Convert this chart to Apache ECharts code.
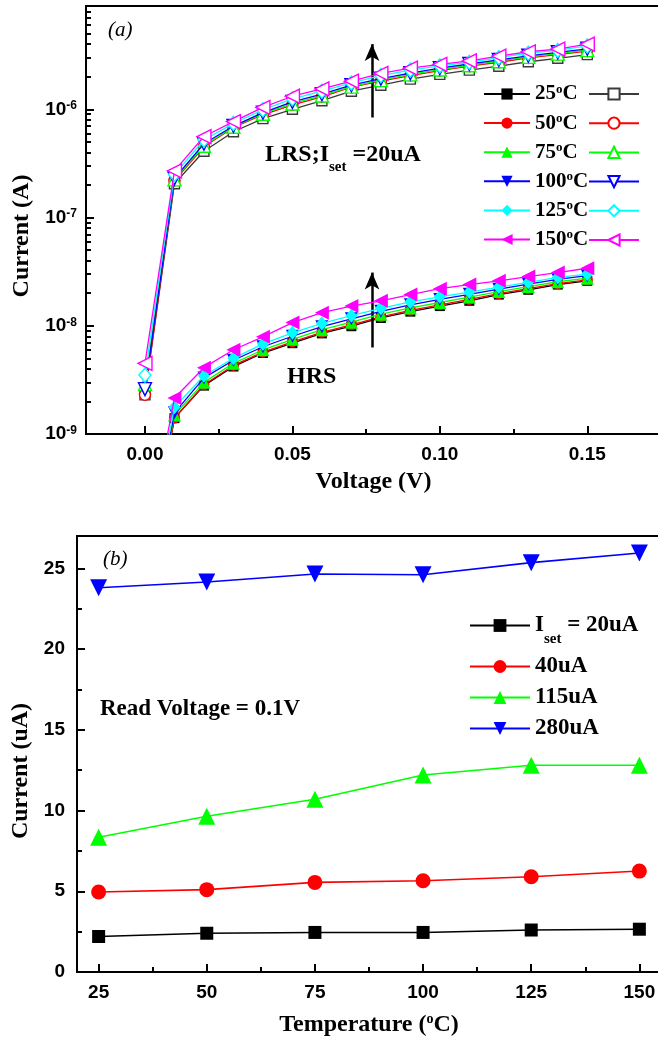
<!DOCTYPE html>
<html>
<head>
<meta charset="utf-8">
<script src="https://cdn.jsdelivr.net/npm/echarts@6/dist/echarts.min.js"></script>
<style>
  html, body { margin: 0; padding: 0; background: #ffffff; }
  #chart { width: 658px; height: 1044px; }
</style>
</head>
<body>
<div id="chart"></div>
<script>
// ---------- (a) I-V curves at several temperatures ----------
const voltage = [0.00, 0.01, 0.02, 0.03, 0.04, 0.05, 0.06, 0.07, 0.08, 0.09, 0.10, 0.11, 0.12, 0.13, 0.14, 0.15];
const tempNames = ['25', '50', '75', '100', '125', '150'];

// high resistance state (filled markers), current in A
const hrs25  = [5e-11, 1.40e-9, 2.80e-9, 4.20e-9, 5.60e-9, 6.90e-9, 8.50e-9, 9.90e-9, 1.18e-8, 1.35e-8, 1.52e-8, 1.70e-8, 1.94e-8, 2.15e-8, 2.40e-8, 2.60e-8];
const hrs50  = [5e-11, 1.40e-9, 2.85e-9, 4.30e-9, 5.70e-9, 7.10e-9, 8.70e-9, 1.02e-8, 1.21e-8, 1.39e-8, 1.56e-8, 1.75e-8, 1.98e-8, 2.20e-8, 2.45e-8, 2.65e-8];
const hrs75  = [6e-11, 1.50e-9, 3.00e-9, 4.50e-9, 6.00e-9, 7.50e-9, 9.20e-9, 1.08e-8, 1.28e-8, 1.46e-8, 1.64e-8, 1.84e-8, 2.07e-8, 2.30e-8, 2.55e-8, 2.75e-8];
const hrs100 = [6e-11, 1.57e-9, 3.30e-9, 4.80e-9, 6.40e-9, 8.00e-9, 9.80e-9, 1.16e-8, 1.36e-8, 1.56e-8, 1.75e-8, 1.95e-8, 2.18e-8, 2.42e-8, 2.68e-8, 2.90e-8];
const hrs125 = [7e-11, 1.77e-9, 3.45e-9, 5.00e-9, 6.80e-9, 8.60e-9, 1.05e-8, 1.24e-8, 1.45e-8, 1.66e-8, 1.85e-8, 2.05e-8, 2.28e-8, 2.52e-8, 2.80e-8, 3.00e-8];
const hrs150 = [8e-11, 2.15e-9, 4.10e-9, 6.00e-9, 7.90e-9, 1.07e-8, 1.32e-8, 1.52e-8, 1.70e-8, 1.94e-8, 2.20e-8, 2.40e-8, 2.60e-8, 2.85e-8, 3.10e-8, 3.40e-8];

// low resistance state (open markers), current in A
const lrs25  = [2.3e-9, 2.05e-7, 4.1e-7, 6.2e-7, 8.2e-7, 1.00e-6, 1.20e-6, 1.47e-6, 1.67e-6, 1.90e-6, 2.10e-6, 2.30e-6, 2.50e-6, 2.75e-6, 2.96e-6, 3.20e-6];
const lrs50  = [2.3e-9, 2.20e-7, 4.5e-7, 6.8e-7, 8.9e-7, 1.10e-6, 1.30e-6, 1.60e-6, 1.82e-6, 2.05e-6, 2.28e-6, 2.50e-6, 2.72e-6, 2.98e-6, 3.20e-6, 3.45e-6];
const lrs75  = [2.9e-9, 2.25e-7, 4.6e-7, 6.9e-7, 9.1e-7, 1.13e-6, 1.34e-6, 1.62e-6, 1.86e-6, 2.10e-6, 2.33e-6, 2.55e-6, 2.78e-6, 3.05e-6, 3.27e-6, 3.52e-6];
const lrs100 = [2.6e-9, 2.30e-7, 4.8e-7, 7.0e-7, 9.3e-7, 1.17e-6, 1.38e-6, 1.67e-6, 1.92e-6, 2.16e-6, 2.40e-6, 2.62e-6, 2.86e-6, 3.12e-6, 3.36e-6, 3.62e-6];
const lrs125 = [3.5e-9, 2.50e-7, 5.2e-7, 7.4e-7, 9.9e-7, 1.25e-6, 1.47e-6, 1.75e-6, 2.05e-6, 2.30e-6, 2.52e-6, 2.72e-6, 3.00e-6, 3.30e-6, 3.50e-6, 3.85e-6];
const lrs150 = [4.5e-9, 2.70e-7, 5.6e-7, 7.7e-7, 1.04e-6, 1.32e-6, 1.54e-6, 1.82e-6, 2.15e-6, 2.40e-6, 2.60e-6, 2.80e-6, 3.10e-6, 3.40e-6, 3.60e-6, 4.00e-6];

const hrsSets = [hrs25, hrs50, hrs75, hrs100, hrs125, hrs150];
const lrsSets = [lrs25, lrs50, lrs75, lrs100, lrs125, lrs150];

// axis ticks of panel (a)
const voltTicks = [0.00, 0.05, 0.10, 0.15];
const voltMinorTicks = [0.025, 0.075, 0.125];
const currentDecades = [1e-9, 1e-8, 1e-7, 1e-6];

// arrows: voltage position, start and end current
const arrowLRS = [0.077, 8.4e-7, 4.0e-6];
const arrowHRS = [0.077, 6.3e-9, 3.1e-8];

// ---------- (b) read current versus temperature ----------
const temperature = [25, 50, 75, 100, 125, 150];
const iset20  = [2.20, 2.40, 2.45, 2.45, 2.60, 2.65];
const iset40  = [4.95, 5.10, 5.55, 5.65, 5.90, 6.25];
const iset115 = [8.35, 9.65, 10.70, 12.20, 12.80, 12.80];
const iset280 = [23.80, 24.15, 24.65, 24.60, 25.35, 25.95];
const isetNames = ['20uA', '40uA', '115uA', '280uA'];

const tempTicks = [25, 50, 75, 100, 125, 150];
const tempMinorTicks = [37.5, 62.5, 87.5, 112.5, 137.5];
const uaTicks = [0, 5, 10, 15, 20, 25];
const uaMinorTicks = [2.5, 7.5, 12.5, 17.5, 22.5];

// ---------- styling ----------
const SERIF = '"Liberation Serif", "Times New Roman", serif';
const SANS = '"Liberation Sans", Arial, sans-serif';

// minor ticks of a log axis: 2..9 in every decade
const currentMinorTicks = [];
for (const d of currentDecades) {
  for (let k = 2; k <= 9; k++) currentMinorTicks.push(+(k * d).toPrecision(3));
}

const styleA = [
  { color: '#000000', open: '#3a3a3a', symbol: 'rect', rotate: 0, size: 10 },
  { color: '#ff0000', open: '#ff0000', symbol: 'circle', rotate: 0, size: 11 },
  { color: '#00ff00', open: '#00ff00', symbol: 'triangle', rotate: 0, size: 13 },
  { color: '#0000ff', open: '#0000ff', symbol: 'triangle', rotate: 180, size: 13 },
  { color: '#00ffff', open: '#00ffff', symbol: 'diamond', rotate: 0, size: [12, 14] },
  { color: '#ff00ff', open: '#ff00ff', symbol: 'triangle', rotate: 90, size: 14 }
];
const styleB = [
  { color: '#000000', symbol: 'rect', rotate: 0, size: 13 },
  { color: '#ff0000', symbol: 'circle', rotate: 0, size: 15 },
  { color: '#00ff00', symbol: 'triangle', rotate: 0, size: 17 },
  { color: '#0000ff', symbol: 'triangle', rotate: 180, size: 17 }
];

const axisLineStyle = { color: '#000', width: 2 };
const tickLabel = { fontSize: 19, fontWeight: 'bold', fontFamily: SANS, color: '#000' };
const nameStyle = { fontSize: 24, fontWeight: 'bold', fontFamily: SERIF, color: '#000' };

function majorAxis(extra) {
  return Object.assign({
    axisLine: { show: true, onZero: false, lineStyle: axisLineStyle },
    splitLine: { show: false },
    minorTick: { show: false },
    axisPointer: { show: false }
  }, extra);
}
function minorAxis(extra) {
  return Object.assign({
    axisLine: { show: false, onZero: false },
    axisLabel: { show: false },
    splitLine: { show: false },
    axisPointer: { show: false }
  }, extra);
}

const series = [];

// panel (a): LRS curves with open markers
lrsSets.forEach((arr, i) => {
  const s = styleA[i];
  series.push({
    name: 'LRS ' + tempNames[i],
    type: 'line', xAxisIndex: 0, yAxisIndex: 0,
    data: voltage.map((v, j) => [v, arr[j]]),
    symbol: s.symbol, symbolRotate: s.rotate, symbolSize: s.size,
    showAllSymbol: true,
    lineStyle: { color: s.open, width: 1.3 },
    itemStyle: { color: '#ffffff', borderColor: s.open, borderWidth: 1.4 },
    z: 3 + i
  });
});
// panel (a): HRS curves with filled markers
hrsSets.forEach((arr, i) => {
  const s = styleA[i];
  series.push({
    name: 'HRS ' + tempNames[i],
    type: 'line', xAxisIndex: 0, yAxisIndex: 0,
    data: voltage.map((v, j) => [v, arr[j]]),
    symbol: s.symbol, symbolRotate: s.rotate, symbolSize: s.size,
    showAllSymbol: true,
    lineStyle: { color: s.color, width: 1.3 },
    itemStyle: { color: s.color, borderColor: s.color, borderWidth: 0 },
    z: 3 + i
  });
});
// arrows of panel (a)
series.push({
  name: 'arrows', type: 'line', xAxisIndex: 0, yAxisIndex: 0, data: [],
  silent: true,
  markLine: {
    silent: true, animation: false,
    symbol: ['none', 'arrow'], symbolSize: [11, 17],
    lineStyle: { color: '#000', width: 2.5, type: 'solid' },
    label: { show: false },
    emphasis: { disabled: true },
    data: [
      [{ coord: [arrowLRS[0], arrowLRS[1]] }, { coord: [arrowLRS[0], arrowLRS[2]] }],
      [{ coord: [arrowHRS[0], arrowHRS[1]] }, { coord: [arrowHRS[0], arrowHRS[2]] }]
    ]
  },
  z: 20
});

// panel (b)
[iset20, iset40, iset115, iset280].forEach((arr, i) => {
  const s = styleB[i];
  series.push({
    name: isetNames[i],
    type: 'line', xAxisIndex: 2, yAxisIndex: 2,
    data: temperature.map((t, j) => [t, arr[j]]),
    symbol: s.symbol, symbolRotate: s.rotate, symbolSize: s.size,
    lineStyle: { color: s.color, width: 1.6 },
    itemStyle: { color: s.color, borderWidth: 0 },
    z: 3
  });
});

const supRich = {
  n: { fontSize: 21, fontWeight: 'bold', fontFamily: SERIF, color: '#000', lineHeight: 22 },
  s: { fontSize: 13, fontWeight: 'bold', fontFamily: SERIF, color: '#000', verticalAlign: 'top', padding: [0, 0, 2, 0] }
};

const option = {
  animation: false,
  backgroundColor: '#ffffff',
  textStyle: { fontFamily: SERIF, color: '#000' },
  grid: [
    { left: 86, right: -3, top: 6, bottom: 610, show: true, borderColor: '#000', borderWidth: 2, containLabel: false, outerBoundsMode: 'none' },
    { left: 77, right: -3, top: 536, bottom: 72, show: true, borderColor: '#000', borderWidth: 2, containLabel: false, outerBoundsMode: 'none' }
  ],
  xAxis: [
    majorAxis({
      gridIndex: 0, type: 'value', min: -0.02, max: 0.175, position: 'bottom',
      axisTick: { show: true, inside: true, length: 8, lineStyle: { color: '#000', width: 2 }, customValues: voltTicks },
      axisLabel: Object.assign({ customValues: voltTicks, margin: 11, formatter: v => v.toFixed(2) }, tickLabel),
      name: 'Voltage (V)', nameLocation: 'middle', nameGap: 36, nameTextStyle: nameStyle
    }),
    minorAxis({
      gridIndex: 0, type: 'value', min: -0.02, max: 0.175, position: 'bottom',
      axisTick: { show: true, inside: true, length: 5, lineStyle: { color: '#000', width: 2 }, customValues: voltMinorTicks }
    }),
    majorAxis({
      gridIndex: 1, type: 'value', min: 20, max: 155, position: 'bottom',
      axisTick: { show: true, inside: true, length: 8, lineStyle: { color: '#000', width: 2 }, customValues: tempTicks },
      axisLabel: Object.assign({ customValues: tempTicks, margin: 11 }, tickLabel),
      name: '{n|Temperature (}{s|o}{n|C)}', nameLocation: 'middle', nameGap: 40,
      nameTextStyle: Object.assign({}, nameStyle, {
        rich: {
          n: { fontSize: 24, fontWeight: 'bold', fontFamily: SERIF, color: '#000', lineHeight: 26 },
          s: { fontSize: 14, fontWeight: 'bold', fontFamily: SERIF, color: '#000', verticalAlign: 'top' }
        }
      })
    }),
    minorAxis({
      gridIndex: 1, type: 'value', min: 20, max: 155, position: 'bottom',
      axisTick: { show: true, inside: true, length: 5, lineStyle: { color: '#000', width: 2 }, customValues: tempMinorTicks }
    })
  ],
  yAxis: [
    majorAxis({
      gridIndex: 0, type: 'log', logBase: 10, min: 1e-9, max: 9e-6, position: 'left',
      axisTick: { show: true, inside: true, length: 8, lineStyle: { color: '#000', width: 2 }, customValues: currentDecades },
      axisLabel: {
        customValues: currentDecades, margin: 9,
        formatter: v => '{b|10}{e|' + Math.round(Math.log10(v)) + '}',
        rich: {
          b: { fontSize: 19, fontWeight: 'bold', fontFamily: SANS, color: '#000' },
          e: { fontSize: 12, fontWeight: 'bold', fontFamily: SANS, color: '#000', verticalAlign: 'top' }
        }
      },
      name: 'Current (A)', nameLocation: 'middle', nameGap: 52,
      nameTextStyle: Object.assign({}, nameStyle, { padding: [0, 32, 0, 0] })
    }),
    minorAxis({
      gridIndex: 0, type: 'log', logBase: 10, min: 1e-9, max: 9e-6, position: 'left',
      axisTick: { show: true, inside: true, length: 5, lineStyle: { color: '#000', width: 2 }, customValues: currentMinorTicks }
    }),
    majorAxis({
      gridIndex: 1, type: 'value', min: 0, max: 27, position: 'left',
      axisTick: { show: true, inside: true, length: 8, lineStyle: { color: '#000', width: 2 }, customValues: uaTicks },
      axisLabel: Object.assign({ customValues: uaTicks, margin: 12 }, tickLabel),
      name: 'Current (uA)', nameLocation: 'middle', nameGap: 44,
      nameTextStyle: Object.assign({}, nameStyle, { padding: [0, 34, 0, 0] })
    }),
    minorAxis({
      gridIndex: 1, type: 'value', min: 0, max: 27, position: 'left',
      axisTick: { show: true, inside: true, length: 5, lineStyle: { color: '#000', width: 2 }, customValues: uaMinorTicks }
    })
  ],
  legend: [
    {
      orient: 'vertical', left: 483, top: 83, padding: 0,
      itemWidth: 46, itemHeight: 14, itemGap: 7.6,
      selectedMode: false,
      data: tempNames.map(t => 'HRS ' + t),
      formatter: name => '{n|' + name.slice(4) + '}{s|o}{n|C}',
      textStyle: { rich: supRich }
    },
    {
      orient: 'vertical', left: 588, top: 87, padding: 0,
      itemWidth: 50, itemHeight: 14, itemGap: 15.6,
      selectedMode: false,
      data: tempNames.map(t => 'LRS ' + t),
      formatter: () => ''
    },
    {
      orient: 'vertical', left: 469, top: 614, padding: 0,
      itemWidth: 60, itemHeight: 16, itemGap: 8,
      selectedMode: false,
      data: isetNames,
      formatter: name => name === isetNames[0]
        ? '{n|I}{b|set}{n| = ' + name + '}'
        : '{n|' + name + '}',
      textStyle: {
        rich: {
          n: { fontSize: 23, fontWeight: 'bold', fontFamily: SERIF, color: '#000', lineHeight: 24 },
          b: { fontSize: 15, fontWeight: 'bold', fontFamily: SERIF, color: '#000', padding: [28, 0, 0, 0] }
        }
      }
    }
  ],
  graphic: [
    { type: 'text', left: 108, top: 20, z: 50, style: { text: '(a)', font: 'italic 21px ' + SERIF, fill: '#000' } },
    { type: 'text', x: 265, y: 155, z: 50, style: {
        text: '{n|LRS;I}{b|set}{n| =20uA}', verticalAlign: 'middle', fill: '#000',
        rich: {
          n: { fontSize: 24, fontWeight: 'bold', fontFamily: SERIF, fill: '#000', lineHeight: 26 },
          b: { fontSize: 15, fontWeight: 'bold', fontFamily: SERIF, fill: '#000', padding: [24, 0, 0, 0] }
        }
    } },
    { type: 'text', x: 287, y: 377, z: 50, style: { text: 'HRS', font: 'bold 24px ' + SERIF, fill: '#000', verticalAlign: 'middle' } },
    { type: 'text', left: 103, top: 549, z: 50, style: { text: '(b)', font: 'italic 21px ' + SERIF, fill: '#000' } },
    { type: 'text', x: 100, y: 709, z: 50, style: { text: 'Read Voltage = 0.1V', font: 'bold 23px ' + SERIF, fill: '#000', verticalAlign: 'middle' } }
  ],
  series: series
};

const chart = echarts.init(document.getElementById('chart'), null, { renderer: 'canvas' });
chart.setOption(option);
</script>
</body>
</html>
